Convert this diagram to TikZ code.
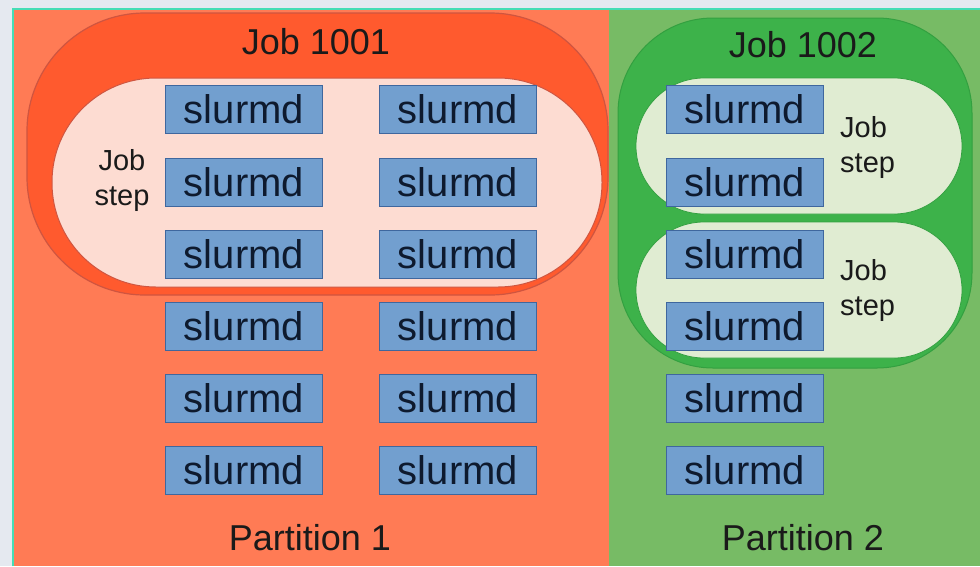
\documentclass[tikz,border=0pt]{standalone}
\usepackage{fontspec}
\setmainfont{Liberation Sans}
\definecolor{bgout}{HTML}{E5E9F0}
\definecolor{frameline}{HTML}{45DDB5}
\definecolor{partA}{HTML}{FF7B55}
\definecolor{partB}{HTML}{77BB65}
\definecolor{jobA}{HTML}{FF5A2E}
\definecolor{jobAline}{HTML}{CF5540}
\definecolor{stepA}{HTML}{FDDCD2}
\definecolor{jobB}{HTML}{3DB24A}
\definecolor{jobBline}{HTML}{33A040}
\definecolor{stepB}{HTML}{E0ECD2}
\definecolor{slfill}{HTML}{729FCF}
\definecolor{slline}{HTML}{3F679E}
\definecolor{sltext}{HTML}{0E1A2E}
\definecolor{txt}{HTML}{1A1A1A}
\tikzset{
  slurmbox/.style={draw=slline, line width=0.8pt, fill=slfill, minimum width=157pt, minimum height=48pt, inner sep=0pt,
    text=sltext, font=\fontsize{40}{44}\selectfont},
  lbl/.style={text=txt, font=\fontsize{36}{40}\selectfont, inner sep=0pt},
  steplbl/.style={text=txt, font=\fontsize{29}{35}\selectfont, align=center, inner sep=0pt},
}
\begin{document}
\begin{tikzpicture}[x=1pt,y=-1pt]
\useasboundingbox (0,0) rectangle (980,566);
\fill[bgout] (0,0) rectangle (980,566);
% partitions
\node[fill=partA, minimum width=596pt, minimum height=557pt, inner sep=0pt, anchor=north west] (p1) at (13,9) {};
\node[fill=partB, minimum width=371pt, minimum height=557pt, inner sep=0pt, anchor=north west] (p2) at (609,9) {};
\draw[frameline, line width=1.5pt] (p1.south west) -- (p1.north west) -- (p2.north east);
% jobs
\node[fill=jobA, draw=jobAline, line width=1.2pt, rounded corners=118pt, minimum width=581pt, minimum height=282pt, inner sep=0pt] (job1) at (317.5,154) {};
\node[fill=stepA, draw=jobAline, line width=1pt, rounded corners=104pt, minimum width=550pt, minimum height=209pt, inner sep=0pt] (step1) at (327,182.5) {};
\node[fill=jobB, draw=jobBline, line width=1pt, rounded corners=95pt, minimum width=354pt, minimum height=350pt, inner sep=0pt] (job2) at (795,193) {};
\node[fill=stepB, draw=jobBline, line width=0.8pt, rounded corners=68pt, minimum width=326pt, minimum height=136pt, inner sep=0pt] (step2a) at (799,146) {};
\node[fill=stepB, draw=jobBline, line width=0.8pt, rounded corners=68pt, minimum width=326pt, minimum height=136pt, inner sep=0pt] (step2b) at (799,290) {};
% labels
\node[lbl] (job1lbl) at (316,42) {Job 1001};
\node[lbl] (job2lbl) at (803,45) {Job 1002};
\node[lbl] (p1lbl) at (310,538) {Partition 1};
\node[lbl] (p2lbl) at (803,538) {Partition 2};
\node[steplbl] (s1lbl) at (122,180) {Job\\step};
\node[steplbl, align=left, anchor=west] (s2albl) at (840,147) {Job\\step};
\node[steplbl, align=left, anchor=west] (s2blbl) at (840,290) {Job\\step};
% slurmd nodes
\foreach \r/\y in {1/109.5,2/182,3/254,4/326,5/398,6/470}{
  \node[slurmbox] (s\r a) at (244,\y) {slurmd};
  \node[slurmbox] (s\r b) at (458,\y) {slurmd};
  \node[slurmbox] (s\r c) at (745,\y) {slurmd};
}
\end{tikzpicture}
\end{document}
